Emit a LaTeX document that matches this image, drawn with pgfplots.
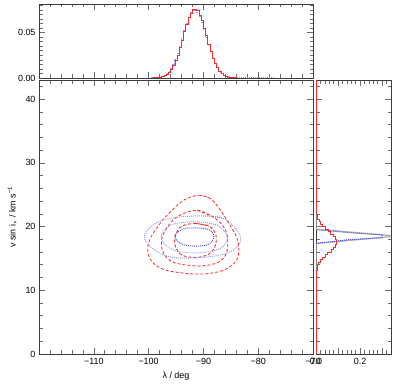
\documentclass[border=0pt]{standalone}
\usepackage{fontspec}
\setmainfont{Liberation Sans}
\usepackage{pgfplots}
\pgfplotsset{compat=1.18}
\definecolor{cred}{RGB}{255,40,40}
\definecolor{cblue}{RGB}{70,70,230}
\definecolor{clblue}{RGB}{150,150,240}
\definecolor{cgray}{RGB}{175,175,175}
\definecolor{caxis}{RGB}{60,60,60}
\pgfplotsset{panel/.style={scale only axis, anchor=south west,
  scaled ticks=false,
  axis line style={caxis, line width=0.8bp},
  every tick/.style={caxis!75, line width=0.6bp},
  major tick length=6bp, minor tick length=3.5bp, tick align=inside,
  xtick pos=both, ytick pos=both,
  tick label style={font=\fontsize{9}{11}\selectfont},
  label style={font=\fontsize{9}{11}\selectfont},
  xticklabel style={yshift=-1bp},
}}
\begin{document}
\begin{tikzpicture}
\useasboundingbox (0,0) rectangle (399bp,390bp);
% main panel
\begin{axis}[panel, at={(39bp,36bp)}, width=274bp, height=274bp,
  xmin=-120, xmax=-70, ymin=0, ymax=43,
  xtick={-110,-100,-90,-80,-70}, xticklabels={−110,−100,−90,−80,−70},
  minor xtick={-118,-116,-114,-112,-108,-106,-104,-102,-98,-96,-94,-92,-88,-86,-84,-82,-78,-76,-74,-72},
  ytick={0,10,20,30,40}, yticklabels={0,10,20,30,40},
  minor ytick={2,4,6,8,12,14,16,18,22,24,26,28,32,34,36,38,42},
  xlabel={λ / deg}, ylabel={v sin i$_\star$ / km s\textsuperscript{−1}},
  ylabel style={yshift=2bp}]
% red dashed contours
\addplot[cred, line width=0.8bp, dash pattern=on 3bp off 2bp, smooth, tension=0.6] coordinates {
(-90.84,24.92) (-88.70,24.40) (-86.88,22.57) (-85.35,20.48) (-83.95,18.39) (-83.53,16.56) (-83.95,14.73) (-85.66,13.42) (-88.10,12.75) (-91.14,12.54) (-94.19,12.75) (-97.24,13.27) (-99.37,14.47) (-100.16,16.30) (-99.67,18.13) (-98.15,20.22) (-96.02,22.31) (-93.58,24.14) (-90.84,24.92) (-88.70,24.40)};
\addplot[cred, line width=0.8bp, dash pattern=on 3bp off 2bp, smooth, tension=0.6] coordinates {
(-91.14,22.57) (-87.79,21.26) (-85.96,19.43) (-85.54,17.34) (-85.96,15.51) (-87.49,14.31) (-90.23,13.84) (-92.97,13.95) (-95.71,14.47) (-97.24,15.78) (-97.66,17.60) (-96.93,19.43) (-94.80,21.52) (-91.14,22.57) (-87.79,21.26)};
\addplot[cred, line width=0.9bp, dash pattern=on 3bp off 2bp, smooth, tension=0.6] coordinates {
(-91.45,20.48) (-89.01,20.06) (-87.79,18.91) (-87.79,17.08) (-89.01,15.67) (-91.45,15.15) (-93.88,15.52) (-95.10,16.82) (-95.10,18.65) (-93.88,20.06) (-91.45,20.48) (-89.01,20.06)};
% blue dotted contours
\addplot[clblue, line width=0.9bp, dash pattern=on 1bp off 1bp, smooth, tension=0.6] coordinates {
(-91.14,21.68) (-86.27,21.26) (-83.22,18.28) (-85.05,16.04) (-91.14,15.10) (-97.24,15.52) (-100.77,18.28) (-97.85,20.90) (-91.14,21.68) (-86.27,21.26)};
\addplot[clblue, line width=0.9bp, dash pattern=on 1bp off 1bp, smooth, tension=0.6] coordinates {
(-91.14,20.74) (-87.49,20.22) (-85.66,18.39) (-86.88,16.56) (-91.14,15.88) (-95.41,16.30) (-97.72,18.13) (-96.02,20.22) (-91.14,20.74) (-87.49,20.22)};
\addplot[cblue, line width=0.9bp, dash pattern=on 1bp off 1bp, smooth, tension=0.6] coordinates {
(-91.45,19.80) (-89.01,19.54) (-88.10,18.39) (-89.01,17.24) (-91.45,16.93) (-93.88,17.24) (-95.22,18.39) (-93.88,19.54) (-91.45,19.80) (-89.01,19.54)};
\end{axis}
% top panel
\begin{axis}[panel, at={(39bp,312bp)}, width=274bp, height=74bp,
  xmin=-120, xmax=-70, ymin=0, ymax=0.0815,
  xtick={-110,-100,-90,-80,-70}, xticklabels={},
  minor xtick={-118,-116,-114,-112,-108,-106,-104,-102,-98,-96,-94,-92,-88,-86,-84,-82,-78,-76,-74,-72},
  ytick={0,0.05}, yticklabels={0.00,0.05},
  minor ytick={0.005,0.01,0.015,0.02,0.025,0.03,0.035,0.04,0.045,0.055,0.06,0.065,0.07,0.075,0.08}]
\addplot[clblue, line width=0.9bp, dash pattern=on 1bp off 1bp, const plot mark mid] coordinates {
(-120,0) (-99.8,0.00004) (-99.4,0.00008) (-99.0,0.00016) (-98.6,0.0003) (-98.2,0.00055) (-97.8,0.001) (-97.4,0.0017) (-97.0,0.0028) (-96.6,0.0045) (-96.2,0.0069) (-95.8,0.0102) (-95.4,0.0146) (-95.0,0.0203) (-94.6,0.0272) (-94.2,0.0352) (-93.8,0.0438) (-93.4,0.0522) (-93.0,0.0605) (-92.6,0.0672) (-92.2,0.0722) (-91.8,0.0748) (-91.4,0.0745) (-91.0,0.0722) (-90.6,0.0675) (-90.2,0.0608) (-89.8,0.0530) (-89.4,0.0448) (-89.0,0.0365) (-88.6,0.0288) (-88.2,0.0218) (-87.8,0.0160) (-87.4,0.0113) (-87.0,0.0077) (-86.6,0.0050) (-86.2,0.0032) (-85.8,0.0020) (-85.4,0.0012) (-85.0,0.0007) (-84.6,0.0004) (-84.2,0.0002) (-83.8,0.0001) (-70,0)};
\addplot[cred, line width=0.8bp, const plot mark mid] coordinates {
(-120,0) (-99.8,0.00003) (-99.4,0.00006) (-99.0,0.00013) (-98.6,0.00025) (-98.2,0.00047) (-97.8,0.00084) (-97.4,0.00150) (-97.0,0.00240) (-96.6,0.00405) (-96.2,0.00612) (-95.8,0.00945) (-95.4,0.01340) (-95.0,0.01910) (-94.6,0.02540) (-94.2,0.03350) (-93.8,0.04150) (-93.4,0.05080) (-93.0,0.05850) (-92.6,0.06650) (-92.2,0.07150) (-91.8,0.07550) (-91.4,0.07560) (-91.0,0.07420) (-90.6,0.06900) (-90.2,0.06300) (-89.8,0.05450) (-89.4,0.04640) (-89.0,0.03720) (-88.6,0.02950) (-88.2,0.02190) (-87.8,0.01630) (-87.4,0.01120) (-87.0,0.00780) (-86.6,0.00490) (-86.2,0.00320) (-85.8,0.00190) (-85.4,0.00110) (-85.0,0.00065) (-84.6,0.00033) (-84.2,0.00018) (-83.8,0.00009) (-70,0)};
\end{axis}
% right panel
\begin{axis}[panel, at={(316bp,36bp)}, width=75bp, height=274bp,
  xmin=0, xmax=0.34, ymin=0, ymax=43,
  xtick={0,0.1,0.2,0.3}, xticklabels={0.0,,0.2,},
  minor xtick={0.02,0.04,0.06,0.08,0.12,0.14,0.16,0.18,0.22,0.24,0.26,0.28,0.32},
  ytick={0,10,20,30,40}, yticklabels={},
  minor ytick={2,4,6,8,12,14,16,18,22,24,26,28,32,34,36,38,42}]
\addplot[cgray, line width=1.3bp] coordinates {(0,0) (0,17.35) (0.365,18.5) (0,19.6) (0,43)};
\addplot[cblue, line width=0.9bp, dash pattern=on 1bp off 1bp] coordinates {(0,17.35) (0.15,17.95) (0.30,18.25) (0.30,18.7) (0.16,19.0) (0,19.5)};
\addplot[cred, line width=0.6bp] coordinates {
(0,0) (0,12.0)
(0.0006,12.0) (0.0006,12.4)
(0.0013,12.4) (0.0013,12.8)
(0.0025,12.8) (0.0025,13.2)
(0.0043,13.2) (0.0043,13.6)
(0.0079,13.6) (0.0079,14.0)
(0.0125,14.0) (0.0125,14.4)
(0.0201,14.4) (0.0201,14.8)
(0.0288,14.8) (0.0288,15.2)
(0.0410,15.2) (0.0410,15.6)
(0.0531,15.6) (0.0531,16.0)
(0.0675,16.0) (0.0675,16.4)
(0.0785,16.4) (0.0785,16.8)
(0.0889,16.8) (0.0889,17.2)
(0.0928,17.2) (0.0928,17.6)
(0.0940,17.6) (0.0940,18.0)
(0.0876,18.0) (0.0876,18.4)
(0.0795,18.4) (0.0795,18.8)
(0.0662,18.8) (0.0662,19.2)
(0.0541,19.2) (0.0541,19.6)
(0.0402,19.6) (0.0402,20.0)
(0.0296,20.0) (0.0296,20.4)
(0.0194,20.4) (0.0194,20.8)
(0.0130,20.8) (0.0130,21.2)
(0.0076,21.2) (0.0076,21.6)
(0.0046,21.6) (0.0046,22.0)
(0.0023,22.0) (0.0023,22.4)
(0.0013,22.4) (0.0013,22.8)
(0.0006,22.8) (0.0006,23.2)
(0,23.2) (0,43)};
\end{axis}
\end{tikzpicture}
\end{document}
